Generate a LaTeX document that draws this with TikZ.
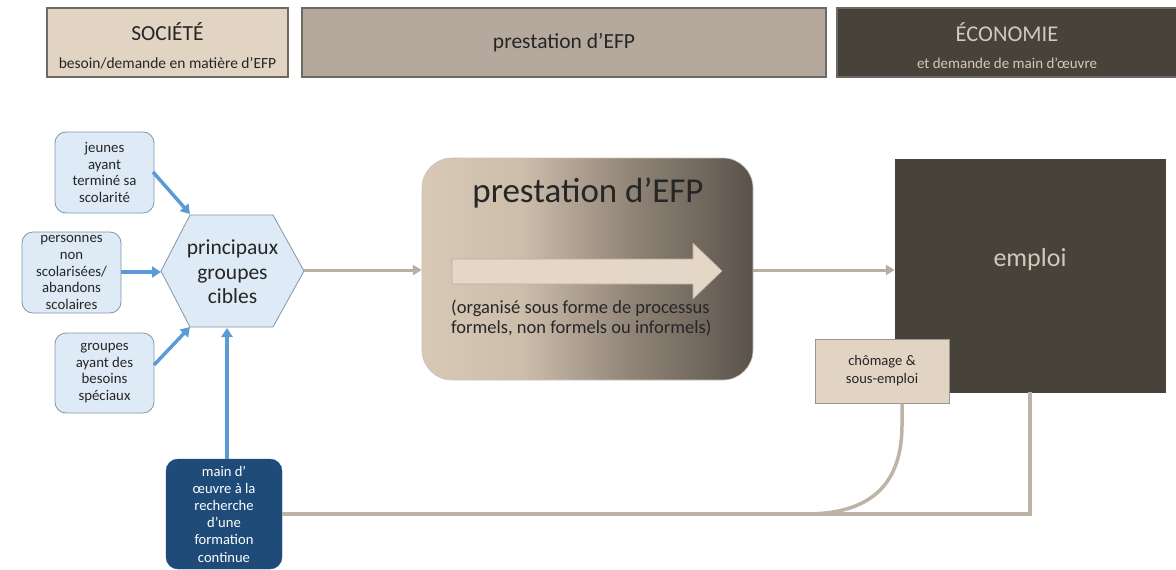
\documentclass[tikz,border=0pt]{standalone}
\usepackage{fontspec}
\setmainfont{Carlito}
\usetikzlibrary{arrows.meta}
\definecolor{socbg}{HTML}{E1D4C3}
\definecolor{prbg}{HTML}{B5A99E}
\definecolor{ecobg}{HTML}{47423A}
\definecolor{hdrborder}{HTML}{6E6963}
\definecolor{ecotxt}{HTML}{D3C9BB}
\definecolor{bluebg}{HTML}{DEEAF6}
\definecolor{blueborder}{HTML}{8096AA}
\definecolor{bluearrow}{HTML}{5B9BD5}
\definecolor{navy}{HTML}{1E4B78}
\definecolor{grayline}{HTML}{BDB3A7}
\definecolor{grayarrow}{HTML}{B9AEA2}
\definecolor{txtdark}{HTML}{262626}
\definecolor{shA}{HTML}{D8C9B7}
\definecolor{shB}{HTML}{CDBEAC}
\definecolor{shC}{HTML}{8F8376}
\definecolor{shD}{HTML}{5A534B}
\definecolor{arrowfill}{HTML}{E4D7C7}
\definecolor{arrowborder}{HTML}{B8AB9B}
\pgfdeclarehorizontalshading{presshade}{100bp}{color(0bp)=(shA); color(25bp)=(shA); color(40bp)=(shB); color(57bp)=(shC); color(75bp)=(shD); color(100bp)=(shD)}
\tikzset{
  header/.style={draw=hdrborder, line width=1.2pt, inner sep=0pt, minimum height=69pt, align=center, text=txtdark},
  bluebox/.style={draw=blueborder, line width=0.8pt, fill=bluebg, rounded corners=11pt, inner sep=0pt, minimum width=99pt, align=center, font=\fontsize{14.8}{16.8}\selectfont, text=txtdark},
  bluearr/.style={draw=bluearrow, line width=3.5pt, -{Triangle[width=11pt,length=9pt]}},
  grayarr/.style={draw=grayarrow, line width=3pt, -{Triangle[width=10pt,length=9pt]}},
  grayln/.style={draw=grayline, line width=3.5pt},
}
\begin{document}
\begin{tikzpicture}[x=1pt,y=-1pt]
\useasboundingbox (0,0) rectangle (1176,570);
% headers
\node[header, fill=socbg, minimum width=241pt] (soc) at (167.5,42.5) {};
\node[text=txtdark, font=\fontsize{21.5}{24}\selectfont] (socT) at (167.5,32) {SOCIÉTÉ};
\node[text=txtdark, font=\fontsize{15.5}{17}\selectfont] (socS) at (167.5,63) {besoin/demande en matière d’EFP};
\node[header, fill=prbg, minimum width=524pt, font=\fontsize{21.5}{24}\selectfont] (prh) at (564,42.5) {prestation d’EFP};
\node[header, fill=ecobg, minimum width=342pt] (eco) at (1008,42.5) {};
\node[text=ecotxt, font=\fontsize{22.5}{24}\selectfont] (ecoT) at (1007,32) {ÉCONOMIE};
\node[text=ecotxt, font=\fontsize{15}{17}\selectfont] (ecoS) at (1007,63) {et demande de main d’œuvre};
% main d'oeuvre
\node[draw=navy, fill=navy, rounded corners=12pt, minimum width=116pt, minimum height=110pt, inner sep=0pt, align=center, text=white, font=\fontsize{14.6}{17.2}\selectfont] (mo) at (224,514) {main d’\\œuvre à la\\recherche\\d’une\\formation\\continue};
% emploi
\node[draw=ecobg, fill=ecobg, minimum width=270pt, minimum height=233pt, inner sep=0pt] (emp) at (1030,275.5) {};
\node[text=ecotxt, font=\fontsize{26}{28}\selectfont] (empT) at (1030,260) {emploi};
\coordinate (empB) at (1030,392);
\coordinate (corner) at (1030,514);
\draw[grayln] (mo.east |- 0,514) -- (corner) -- (empB);
\node[draw=hdrborder!70, line width=0.8pt, fill=socbg, minimum width=134pt, minimum height=64pt, inner sep=0pt, align=center, text=txtdark, font=\fontsize{14.6}{18}\selectfont] (chom) at (882,371) {chômage \&\\sous-emploi};
\draw[grayln] (chom.south -| 902,0) -- (902,425) .. controls (902,492) and (862,514) .. (806,514);
% blue boxes
\node[bluebox, minimum height=81pt] (jeu) at (104.5,172.5) {jeunes\\ayant\\terminé sa\\scolarité};
\node[bluebox, minimum height=81pt] (pers) at (71.5,272.5) {personnes\\non\\scolarisées/\\abandons\\scolaires};
\node[bluebox, minimum height=80pt] (grp) at (104.5,373) {groupes\\ayant des\\besoins\\spéciaux};
% hexagon
\draw[draw=blueborder, line width=0.8pt, fill=bluebg] (161,271) -- (190,215) -- (273,215) -- (304,271) -- (273,327) -- (190,327) -- cycle;
\node[align=center, text=txtdark, font=\fontsize{21.5}{24.5}\selectfont] (hex) at (232.5,272) {principaux\\groupes\\cibles};
\coordinate (hexNW) at (190,214);
\coordinate (hexW) at (161,272);
\coordinate (hexSW) at (190,327);
\coordinate (hexS) at (227,328);
\coordinate (hexE) at (304,270);
\draw[bluearr] (153,172) -- (hexNW);
\draw[bluearr] (pers.east |- 0,272) -- (hexW);
\draw[bluearr] (154,365) -- (hexSW);
\draw[bluearr] (mo.north -| hexS) -- (hexS);
% prestation box
\path[shading=presshade, rounded corners=30pt] (422,158) rectangle (753,380);
\draw[draw=grayline!80, line width=0.6pt, rounded corners=30pt] (422,158) rectangle (753,380);
\node[inner sep=0pt, minimum width=331pt, minimum height=222pt] (pres) at (587.5,269) {};
\node[text=txtdark, font=\fontsize{35}{38}\selectfont] (presT) at (588,193) {prestation d’EFP};
\draw[fill=arrowfill, draw=arrowborder, line width=0.6pt] (452,259) -- (693,259) -- (693,243) -- (722,271) -- (693,299) -- (693,284) -- (452,284) -- cycle;
\node[anchor=west, align=left, text=txtdark, font=\fontsize{18.5}{20}\selectfont, inner sep=0pt] (presS) at (451,318) {(organisé sous forme de processus\\formels, non formels ou informels)};
% gray arrows
\draw[grayarr] (hexE) -- (pres.west |- 0,270);
\draw[grayarr] (pres.east |- 0,270) -- (emp.west |- 0,270);
\end{tikzpicture}
\end{document}
